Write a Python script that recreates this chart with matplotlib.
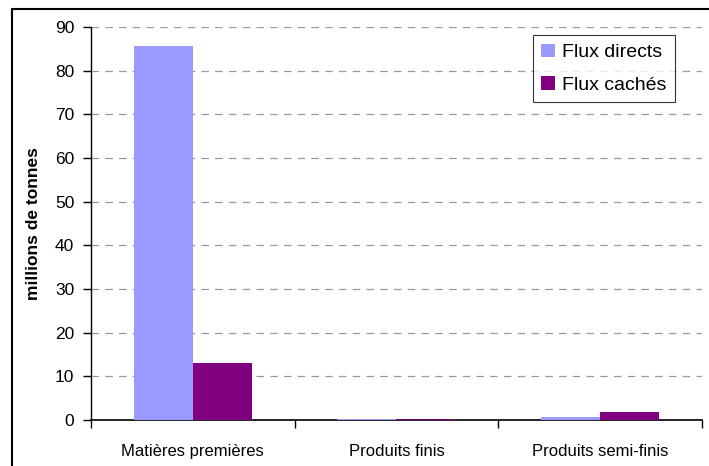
import numpy as np
import matplotlib.pyplot as plt
from matplotlib.patches import Rectangle

plt.rcParams['font.family'] = ['Liberation Sans', 'DejaVu Sans']

categories = ["Matières premières", "Produits finis", "Produits semi-finis"]
flux_directs = [85.7, 0.2, 0.8]
flux_caches = [13.1, 0.3, 1.8]

fig = plt.figure(figsize=(7.09, 4.66), dpi=100)
ax = fig.add_axes([91 / 709, 1 - 420 / 466, (702 - 91) / 709, (420 - 27) / 466])

x = np.arange(len(categories))
w = 0.29
ax.bar(x - w / 2, flux_directs, w, color="#9999ff", label="Flux directs", zorder=3)
ax.bar(x + w / 2, flux_caches, w, color="#800080", label="Flux cachés", zorder=3)

ax.set_xlim(-0.5, len(categories) - 0.5)
ax.set_ylim(0, 90)
ax.set_yticks(range(0, 91, 10))
ax.set_xticks(x)
ax.set_xticklabels(categories, fontsize=12)
ax.set_xticks(np.arange(-0.5, len(categories), 1), minor=True)
ax.tick_params(axis="x", which="major", length=0, pad=17)
ax.tick_params(axis="x", which="minor", length=6, direction="out", width=1)
ax.tick_params(axis="y", labelsize=12.5, length=6, width=1, pad=6)

ax.yaxis.grid(True, linestyle=(0, (6, 5)), color="#999999", linewidth=0.9, zorder=0)
for s in ["top", "right"]:
    ax.spines[s].set_visible(False)
ax.spines["left"].set_linewidth(1)
ax.spines["bottom"].set_linewidth(1.2)

ax.set_ylabel("millions de tonnes", fontsize=12.5, fontweight="bold", labelpad=10)

leg = ax.legend(loc="upper right", bbox_to_anchor=(675 / 709, 1 - 35 / 466),
                bbox_transform=fig.transFigure, fontsize=14, frameon=True,
                fancybox=False, edgecolor="black", handlelength=0.7,
                handleheight=0.7, handletextpad=0.35, borderpad=0.45,
                labelspacing=0.75, borderaxespad=0)
leg.get_frame().set_linewidth(0.8)

# cadre autour du graphique
fig.patches.append(Rectangle((12 / 709, -0.05), 1.2, 1 - 9 / 466 + 0.05,
                             transform=fig.transFigure, fill=False,
                             edgecolor="black", linewidth=1.5))

fig.savefig("out.png", dpi=100)
